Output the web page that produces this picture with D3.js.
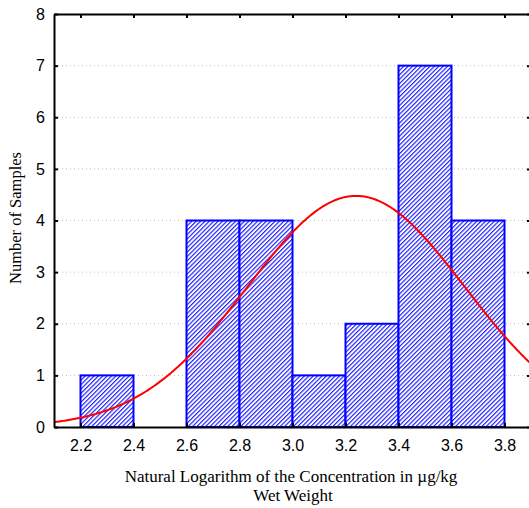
<!DOCTYPE html>
<html>
<head>
<meta charset="utf-8">
<script src="https://cdn.jsdelivr.net/npm/d3@7"></script>
<style>
  html, body { margin: 0; padding: 0; background: #fff; }
  svg { display: block; }
</style>
</head>
<body>
<svg id="chart" width="529" height="508"></svg>
<script>
// Histogram bins (lower edge, upper edge) and sample counts
const binStarts = [2.2, 2.4, 2.6, 2.8, 3.0, 3.2, 3.4, 3.6];
const binEnds   = [2.4, 2.6, 2.8, 3.0, 3.2, 3.4, 3.6, 3.8];
const counts    = [1, 0, 4, 4, 1, 2, 7, 4];

// Tick labels
const xTicks = [2.2, 2.4, 2.6, 2.8, 3.0, 3.2, 3.4, 3.6, 3.8];
const yTicks = [0, 1, 2, 3, 4, 5, 6, 7, 8];

// Fitted normal curve parameters
const fitMean = 3.24;
const fitSd = 0.41;
const binWidth = 0.2;

const svg = d3.select("#chart");
const margin = { left: 54, top: 14, right: -2, bottom: 81 };
const W = 529, H = 508;

const x = d3.scaleLinear().domain([2.1, 3.9]).range([margin.left, W - margin.right]);
const y = d3.scaleLinear().domain([0, 8]).range([H - margin.bottom, margin.top]);

// Diagonal hatch pattern
const hatchStep = 3.1;
const defs = svg.append("defs");
const pat = defs.append("pattern")
  .attr("id", "hatch")
  .attr("patternUnits", "userSpaceOnUse")
  .attr("width", hatchStep).attr("height", hatchStep)
  .attr("patternTransform", "rotate(45)");
pat.append("rect").attr("width", hatchStep).attr("height", hatchStep).attr("fill", "#fff");
pat.append("line")
  .attr("x1", 0.6).attr("y1", 0).attr("x2", 0.6).attr("y2", hatchStep)
  .attr("stroke", "#1010ff").attr("stroke-width", 1.1);

defs.append("clipPath").attr("id", "plotClip")
  .append("rect")
  .attr("x", x(2.1)).attr("y", y(8))
  .attr("width", x(3.9) - x(2.1)).attr("height", y(0) - y(8));

// Dotted horizontal gridlines
svg.append("g")
  .selectAll("line")
  .data(yTicks.filter(v => v > 0 && v < 8))
  .join("line")
  .attr("x1", x(2.1)).attr("x2", x(3.9))
  .attr("y1", d => y(d)).attr("y2", d => y(d))
  .attr("stroke", "#bdbdbd")
  .attr("stroke-width", 1)
  .attr("stroke-dasharray", "1,3");

// Bars
const bins = binStarts.map((s, i) => ({ x0: s, x1: binEnds[i], n: counts[i] }));
svg.append("g")
  .selectAll("rect")
  .data(bins.filter(d => d.n > 0))
  .join("rect")
  .attr("x", d => x(d.x0))
  .attr("y", d => y(d.n))
  .attr("width", d => x(d.x1) - x(d.x0))
  .attr("height", d => y(0) - y(d.n))
  .attr("fill", "url(#hatch)")
  .attr("stroke", "#0000ff")
  .attr("stroke-width", 2);

// Normal curve scaled to counts
const total = d3.sum(counts);
const curveXs = d3.range(2.1, 3.9001, 0.005);
const density = v => total * binWidth / (fitSd * Math.sqrt(2 * Math.PI)) *
  Math.exp(-0.5 * Math.pow((v - fitMean) / fitSd, 2));
svg.append("path")
  .datum(curveXs)
  .attr("clip-path", "url(#plotClip)")
  .attr("fill", "none")
  .attr("stroke", "#ff0000")
  .attr("stroke-width", 2)
  .attr("d", d3.line().x(d => x(d)).y(d => y(density(d))));

// Axes with inward ticks
const tickFont = "16px 'Liberation Sans', Arial, sans-serif";
const axisB = svg.append("g").attr("transform", `translate(0,${y(0)})`)
  .call(d3.axisBottom(x).tickValues(xTicks).tickSizeInner(-4).tickSizeOuter(0).tickPadding(13).tickFormat(d3.format(".1f")));
const axisT = svg.append("g").attr("transform", `translate(0,${y(8)})`)
  .call(d3.axisTop(x).tickValues(xTicks).tickSizeInner(-4).tickSizeOuter(0).tickFormat(""));
const axisL = svg.append("g").attr("transform", `translate(${x(2.1)},0)`)
  .call(d3.axisLeft(y).tickValues(yTicks).tickSizeInner(-4).tickSizeOuter(0).tickPadding(9).tickFormat(d3.format("d")));
const axisR = svg.append("g").attr("transform", `translate(${x(3.9)},0)`)
  .call(d3.axisRight(y).tickValues(yTicks).tickSizeInner(-4).tickSizeOuter(0).tickFormat(""));

[axisB, axisT, axisL, axisR].forEach(g => {
  g.select(".domain").attr("stroke", "#000").attr("stroke-width", 2);
  g.selectAll(".tick line").attr("stroke", "#000").attr("stroke-width", 2);
  g.selectAll("text").style("font", tickFont).attr("fill", "#000");
});

// Axis titles
const titleFont = "17px 'Liberation Serif', 'Times New Roman', serif";
svg.append("text")
  .attr("x", 291).attr("y", 482)
  .attr("text-anchor", "middle")
  .style("font", titleFont)
  .text("Natural Logarithm of the Concentration in µg/kg");
svg.append("text")
  .attr("x", 293).attr("y", 501)
  .attr("text-anchor", "middle")
  .style("font", titleFont)
  .text("Wet Weight");
svg.append("text")
  .attr("transform", "translate(21,218) rotate(-90)")
  .attr("text-anchor", "middle")
  .style("font", "16.5px 'Liberation Serif', 'Times New Roman', serif")
  .text("Number of Samples");
</script>
</body>
</html>
